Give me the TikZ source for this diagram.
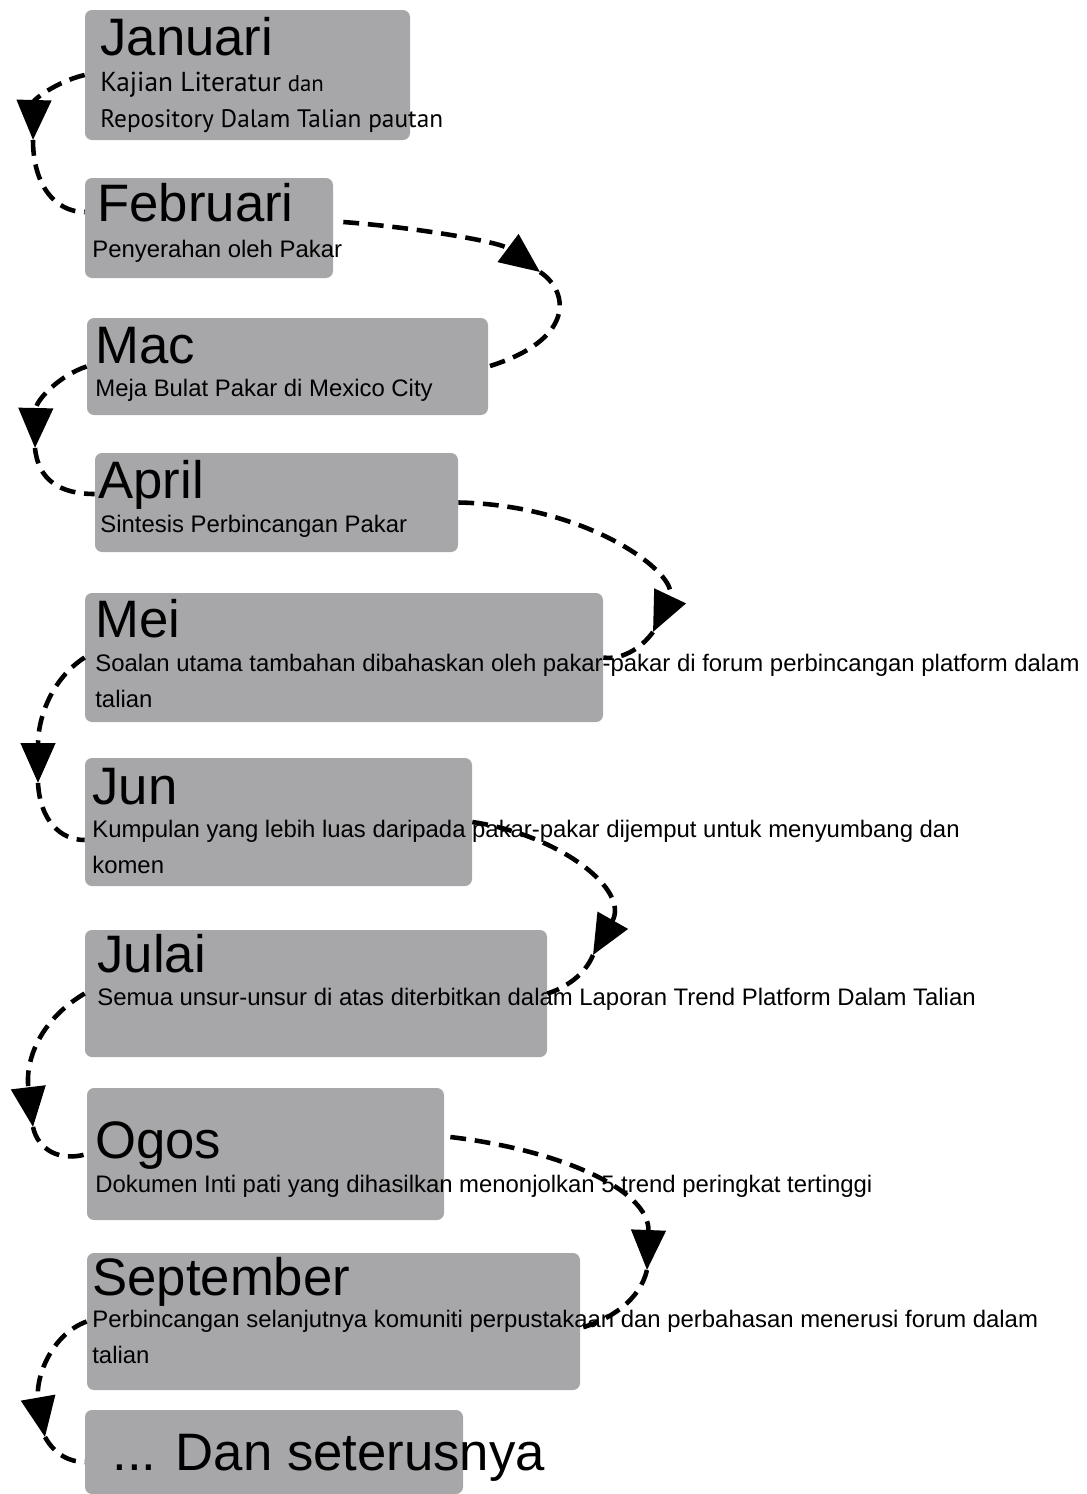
\documentclass[tikz,border=0pt]{standalone}
\usepackage{fontspec}
\setmainfont{Liberation Sans}
\newfontfamily\ptsans{PT Sans}
\usetikzlibrary{arrows.meta,positioning,fit,calc}
\definecolor{boxgrey}{HTML}{A7A7AA}
\tikzset{
  >={Triangle[length=0.8cm,width=0.68cm]},
  % kotak bulan
  bulan/.style={fill=boxgrey,draw=none,rounded corners=4pt,inner sep=0pt},
  tajuk/.style={anchor=base west,inner sep=0pt,font=\fontsize{30}{36}\selectfont},
  ket/.style={anchor=base west,inner sep=0pt,align=left,
              font=\fontsize{13.6}{20.4}\selectfont},
  % anak panah
  aliran/.style={draw=black,line width=2.6pt,dash pattern=on 9pt off 5pt},
}

\begin{document}
\begin{tikzpicture}[x=0.02cm,y=-0.02cm]
  \useasboundingbox (0,0) rectangle (1086,1494);
  % kotak
  \node[bulan,fit={(85,10) (410,140)}] (jan) {};
  \node[bulan,fit={(85,178) (333,278)}] (feb) {};
  \node[bulan,fit={(87,318) (488,415)}] (mac) {};
  \node[bulan,fit={(95,453) (458,552)}] (apr) {};
  \node[bulan,fit={(85,593) (603,722)}] (mei) {};
  \node[bulan,fit={(85,758) (472,886)}] (jun) {};
  \node[bulan,fit={(85,930) (547,1057)}] (jul) {};
  \node[bulan,fit={(87,1088) (444,1220)}] (ogo) {};
  \node[bulan,fit={(87,1253) (580,1390)}] (sep) {};
  \node[bulan,fit={(85,1410) (463,1494)}] (dan) {};
  % tajuk dan keterangan (base = baris terakhir)
  \node[tajuk] (janT) at (100,55) {Januari};
  \node[ket] (janK) at (100,127) {{\ptsans\fontsize{15.6}{20}\selectfont Kajian Literatur}
    {\ptsans\fontsize{13}{20}\selectfont dan}\\
    {\ptsans\fontsize{14.4}{20}\selectfont Repository Dalam Talian pautan}};
  \node[tajuk] (febT) at (97,221) {Februari};
  \node[ket] (febK) at (92,257) {Penyerahan oleh Pakar};
  \node[tajuk] (macT) at (95,363) {Mac};
  \node[ket] (macK) at (95,396) {Meja Bulat Pakar di Mexico City};
  \node[tajuk] (aprT) at (98,498) {April};
  \node[ket] (aprK) at (100,532) {Sintesis Perbincangan Pakar};
  \node[tajuk] (meiT) at (95,637) {Mei};
  \node[ket] (meiK) at (95,707) {Soalan utama tambahan dibahaskan oleh pakar-pakar di forum perbincangan platform dalam\\talian};
  \node[tajuk] (junT) at (92,804) {Jun};
  \node[ket] (junK) at (92,873) {Kumpulan yang lebih luas daripada pakar-pakar dijemput untuk menyumbang dan\\komen};
  \node[tajuk] (julT) at (97,972) {Julai};
  \node[ket] (julK) at (97,1005) {Semua unsur-unsur di atas diterbitkan dalam Laporan Trend Platform Dalam Talian};
  \node[tajuk] (ogoT) at (95,1158) {Ogos};
  \node[ket] (ogoK) at (95,1192) {Dokumen Inti pati yang dihasilkan menonjolkan 5 trend peringkat tertinggi};
  \node[tajuk] (sepT) at (92,1295) {September};
  \node[ket] (sepK) at (92,1363) {Perbincangan selanjutnya komuniti perpustakaan dan perbahasan menerusi forum dalam\\talian};
  \node[tajuk] (danT) at (112,1470) {... Dan seterusnya};
  % hujung anak panah
  \coordinate (p1) at (33,140);
  \coordinate (p2) at (540,272);
  \coordinate (p3) at (35,448);
  \coordinate (p4) at (653,632);
  \coordinate (p5) at (38,783);
  \coordinate (p6) at (593,955);
  \coordinate (p7) at (33,1127);
  \coordinate (p8) at (647,1270);
  \coordinate (p9) at (45,1437);
  % anak panah
  \draw[aliran,->] (jan.west) .. controls (55,82) and (34,100) .. (p1);
  \draw[aliran] (p1) .. controls (33,185) and (55,212) .. ([yshift=0.32cm]feb.west);
  \draw[aliran,->] ([shift={(0.2cm,0.12cm)}]feb.east) .. controls (420,228) and (500,242) .. (p2);
  \draw[aliran] (p2) .. controls (570,292) and (575,340) .. (mac.east);
  \draw[aliran,->] (mac.west) .. controls (60,375) and (36,400) .. (p3);
  \draw[aliran] (p3) .. controls (38,480) and (60,494) .. ([yshift=0.17cm]apr.west);
  \draw[aliran,->] (apr.east) .. controls (590,505) and (680,575) .. (p4);
  \draw[aliran] (p4) .. controls (640,650) and (620,660) .. (mei.east);
  \draw[aliran,->] (mei.west) .. controls (50,680) and (38,720) .. (p5);
  \draw[aliran] (p5) .. controls (40,820) and (60,840) .. ([yshift=-0.36cm]jun.west);
  \draw[aliran,->] (jun.east) .. controls (560,835) and (630,890) .. (p6);
  \draw[aliran] (p6) .. controls (585,975) and (565,988) .. (jul.east);
  \draw[aliran,->] (jul.west) .. controls (40,1020) and (25,1060) .. (p7);
  \draw[aliran] (p7) .. controls (38,1150) and (60,1162) .. (ogo.west);
  \draw[aliran,->] ([shift={(0.12cm,0.34cm)}]ogo.east) .. controls (560,1150) and (650,1190) .. (p8);
  \draw[aliran] (p8) .. controls (640,1300) and (610,1320) .. ([yshift=-0.13cm]sep.east);
  \draw[aliran,->] (sep.west) .. controls (50,1335) and (35,1380) .. (p9);
  \draw[aliran] (p9) .. controls (55,1455) and (70,1462) .. ([yshift=-0.2cm]dan.west);
\end{tikzpicture}
\end{document}
